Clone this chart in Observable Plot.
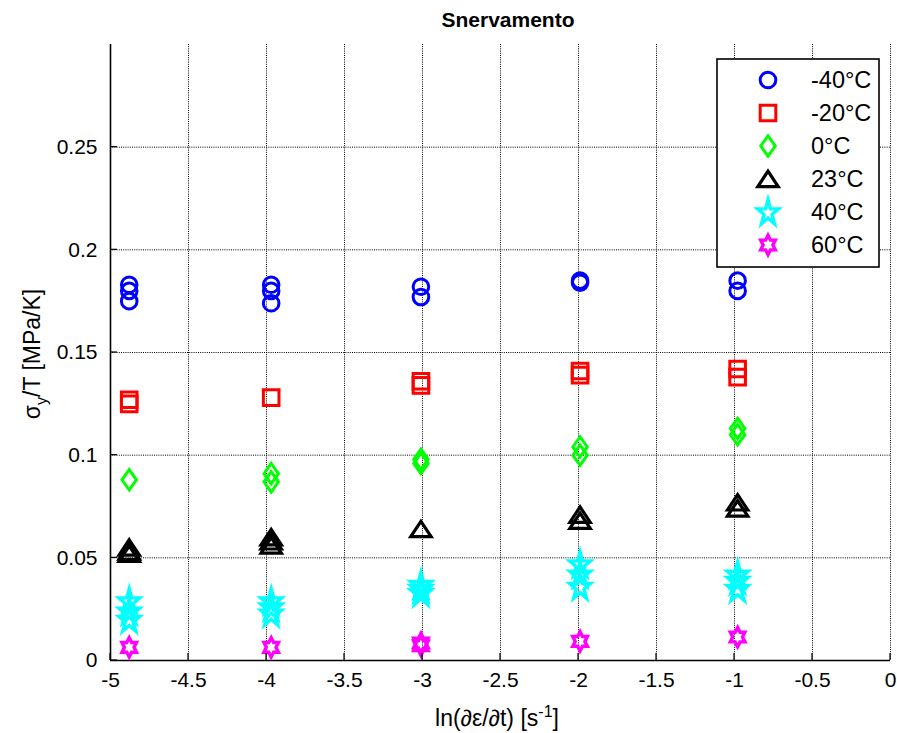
<!DOCTYPE html>
<html>
<head>
<meta charset="utf-8">
<script src="https://cdn.jsdelivr.net/npm/d3@7"></script>
<script src="https://cdn.jsdelivr.net/npm/@observablehq/plot@0.6"></script>
<style>
  body { margin: 0; background: #fff; }
  #chart svg { display: block; }
</style>
</head>
<body>
<div id="chart"></div>
<script>
// ln of the strain rate for each test group
const strainRates = [-4.88, -3.97, -3.01, -1.99, -0.98];

// Test temperatures and their colours
const temperatures = ["-40°C", "-20°C", "0°C", "23°C", "40°C", "60°C"];
const colors = ["#0000ff", "#ff0000", "#00ff00", "#000000", "#00ffff", "#ff00ff"];

// Yield stress over temperature [MPa/K], one inner list per strain-rate group
const yieldM40 = [[0.183, 0.180, 0.175], [0.183, 0.180, 0.174], [0.182, 0.177], [0.185, 0.184], [0.185, 0.180]];
const yieldM20 = [[0.127, 0.125], [0.128], [0.136, 0.134], [0.141, 0.139], [0.142, 0.138]];
const yield0   = [[0.088], [0.091, 0.087], [0.098, 0.096], [0.104, 0.100], [0.113, 0.110]];
const yield23  = [[0.055, 0.053, 0.052], [0.060, 0.058, 0.056], [0.064], [0.071, 0.068], [0.077, 0.074]];
const yield40  = [[0.029, 0.024, 0.020], [0.029, 0.026, 0.023], [0.037, 0.035, 0.033], [0.047, 0.042, 0.036], [0.042, 0.039, 0.035]];
const yield60  = [[0.0064], [0.0064], [0.0085, 0.0072], [0.0093], [0.0114]];

// Axis ticks
const xTicks = [-5, -4.5, -4, -3.5, -3, -2.5, -2, -1.5, -1, -0.5, 0];
const yTicks = [0, 0.05, 0.1, 0.15, 0.2, 0.25];

const series = [yieldM40, yieldM20, yield0, yield23, yield40, yield60];

// Marker outlines (fixed pixel size, drawn around the data point)
const markers = [
  { draw(c) { c.moveTo(7.8, 0); c.arc(0, 0, 7.8, 0, 2 * Math.PI); } },
  { draw(c) { c.rect(-7.8, -7.8, 15.6, 15.6); } },
  { draw(c) { c.moveTo(0, -10.2); c.lineTo(7.2, 0); c.lineTo(0, 10.2); c.lineTo(-7.2, 0); c.closePath(); } },
  { draw(c) { c.moveTo(0, -7.8); c.lineTo(10.2, 7.6); c.lineTo(-10.2, 7.6); c.closePath(); } },
  { draw(c) {
      const R = 11, r = R * 0.382;
      for (let i = 0; i < 10; i++) {
        const a = (-90 + i * 36) * Math.PI / 180, rr = i % 2 ? r : R;
        const px = rr * Math.cos(a), py = rr * Math.sin(a) * 1.2 + 1;
        i ? c.lineTo(px, py) : c.moveTo(px, py);
      }
      c.closePath();
  } },
  { draw(c) {
      const R = 8.4, r = R / Math.sqrt(3);
      for (let i = 0; i < 12; i++) {
        const a = (-90 + i * 30) * Math.PI / 180, rr = i % 2 ? r : R;
        const px = rr * Math.cos(a), py = rr * Math.sin(a) * 1.15;
        i ? c.lineTo(px, py) : c.moveTo(px, py);
      }
      c.closePath();
  } }
];
const markerWidths = [3, 3, 3, 3.2, 3.4, 3.4];

const rows = series.map((groups) =>
  groups.flatMap((vals, g) => vals.map((v) => ({ rate: strainRates[g], value: v })))
);

const font = "'Liberation Sans', Arial, Helvetica, sans-serif";

const chart = Plot.plot({
  width: 897,
  height: 733,
  marginLeft: 110,
  marginRight: 7,
  marginTop: 44,
  marginBottom: 73,
  style: { fontFamily: font, fontSize: "21px", background: "white", overflow: "visible" },
  x: { domain: [-5, 0] },
  y: { domain: [0, 0.3] },
  marks: [
    Plot.gridX(xTicks, { stroke: "black", strokeOpacity: 1, strokeWidth: 1, strokeDasharray: "1,1.2" }),
    Plot.gridY(yTicks, { stroke: "black", strokeOpacity: 1, strokeWidth: 1, strokeDasharray: "1,1.2" }),
    Plot.axisX(xTicks, { tickSize: 0, tickPadding: 12, tickFormat: (d) => String(d), label: null, fontSize: 21 }),
    Plot.axisY(yTicks, { tickSize: 0, tickPadding: 13, tickFormat: (d) => String(d), label: null, fontSize: 21 }),
    Plot.ruleX([-5], { stroke: "black", strokeWidth: 1.6 }),
    Plot.ruleY([0], { stroke: "black", strokeWidth: 1.6 }),
    ...rows.map((data, s) =>
      Plot.dot(data, {
        x: "rate",
        y: "value",
        symbol: markers[s],
        stroke: colors[s],
        fill: "none",
        strokeWidth: markerWidths[s]
      })
    )
  ]
});

document.getElementById("chart").appendChild(chart);

const svg = d3.select(chart);
const xs = chart.scale("x"), ys = chart.scale("y");

// Inward tick marks on the left and bottom axes
const tickLen = 7;
svg.append("g").attr("stroke", "black").attr("stroke-width", 1.2)
  .selectAll("line").data(xTicks).join("line")
  .attr("x1", (d) => xs.apply(d)).attr("x2", (d) => xs.apply(d))
  .attr("y1", ys.apply(0)).attr("y2", ys.apply(0) - tickLen);
svg.append("g").attr("stroke", "black").attr("stroke-width", 1.2)
  .selectAll("line").data(yTicks).join("line")
  .attr("y1", (d) => ys.apply(d)).attr("y2", (d) => ys.apply(d))
  .attr("x1", xs.apply(-5)).attr("x2", xs.apply(-5) + tickLen);

// Title
svg.append("text")
  .attr("x", 508).attr("y", 27)
  .attr("text-anchor", "middle")
  .attr("font-family", font).attr("font-weight", "bold").attr("font-size", 21)
  .text("Snervamento");

// X axis label with superscript
const xl = svg.append("text")
  .attr("x", 497).attr("y", 726)
  .attr("text-anchor", "middle")
  .attr("font-family", font).attr("font-size", 23);
xl.append("tspan").text("ln(∂ε/∂t) [s");
xl.append("tspan").attr("dy", -9).attr("font-size", 16).text("-1");
xl.append("tspan").attr("dy", 9).text("]");

// Y axis label with subscript
const yl = svg.append("text")
  .attr("transform", "translate(40,354) rotate(-90)")
  .attr("text-anchor", "middle")
  .attr("font-family", font).attr("font-size", 23);
yl.append("tspan").text("σ");
yl.append("tspan").attr("dy", 7).attr("font-size", 16).text("y");
yl.append("tspan").attr("dy", -7).text("/T [MPa/K]");

// Legend
const lg = svg.append("g");
lg.append("rect")
  .attr("x", 717).attr("y", 59).attr("width", 162).attr("height", 208)
  .attr("fill", "white").attr("stroke", "black").attr("stroke-width", 1.6);
temperatures.forEach((t, i) => {
  const cy = 80 + i * 33;
  lg.append("path")
    .attr("transform", `translate(768,${cy})`)
    .attr("d", d3.symbol(markers[i])())
    .attr("fill", "none").attr("stroke", colors[i]).attr("stroke-width", markerWidths[i]);
  lg.append("text")
    .attr("x", 811).attr("y", cy + 8)
    .attr("text-anchor", "start")
    .attr("font-family", font).attr("font-size", 23.5)
    .text(t);
});
</script>
</body>
</html>
